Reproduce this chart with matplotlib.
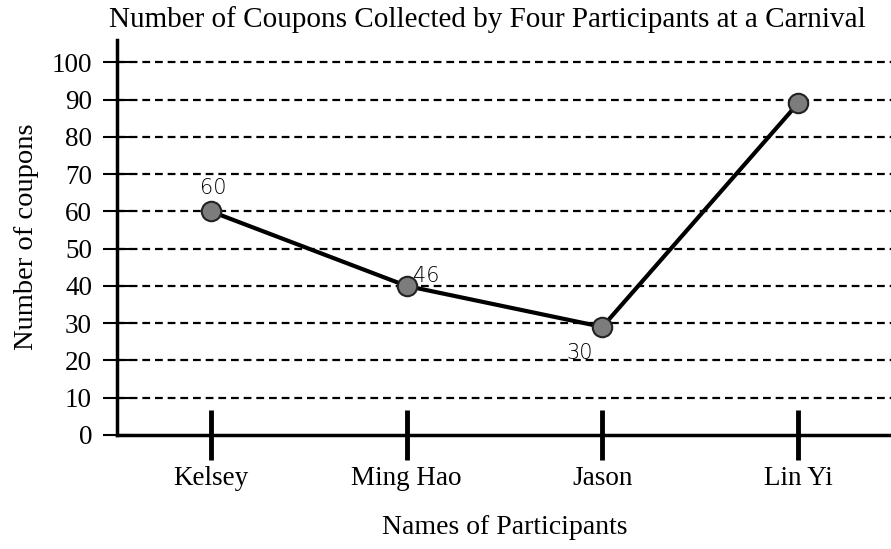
import matplotlib

matplotlib.use("Agg")
import matplotlib.pyplot as plt

participants = ["Kelsey", "Ming Hao", "Jason", "Lin Yi"]
coupons = [60, 40, 29, 89]
notes = ["60", "46", "30", ""]
y_ticks = [0, 10, 20, 30, 40, 50, 60, 70, 80, 90, 100]

plt.rcParams["font.family"] = ["Liberation Serif", "DejaVu Serif"]

W, H = 891, 549
fig = plt.figure(figsize=(W / 100, H / 100), dpi=100)
ax = fig.add_axes([117 / W, 114 / H, 1 - 117 / W, 395 / H])

x = list(range(len(participants)))
for v in y_ticks[1:]:
    ax.axhline(v, color="black", lw=1.6, ls=(0, (3.5, 2.2)), zorder=1)

ax.plot(x, coupons, color="black", lw=3, zorder=3,
        marker="o", markersize=14, markerfacecolor="#7c7c7c",
        markeredgecolor="#222222", markeredgewidth=1.5)

# handwritten labels next to points
offsets = [(2, 17), (14, 7), (-16, -19), (0, 0)]
for xi, yi, txt, off in zip(x, coupons, notes, offsets):
    if txt:
        ax.annotate(txt, (xi, yi), xytext=off, textcoords="offset points",
                    ha="center", va="center", fontsize=15, family="DejaVu Sans",
                    fontweight="light", zorder=4)

ax.set_xlim(-0.48, 3.475)
ax.set_ylim(0, 106)
ax.set_xticks(x)
ax.set_xticklabels(participants, fontsize=19.5)
ax.set_yticks(y_ticks)
ax.set_yticklabels([str(v) for v in y_ticks], fontsize=19.5)
ax.tick_params(axis="x", direction="inout", length=36, width=3.5, pad=4)
ax.tick_params(axis="y", direction="inout", length=20, width=1.5, pad=8)

for s in ("top", "right"):
    ax.spines[s].set_visible(False)
ax.spines["left"].set_linewidth(2.5)
ax.spines["bottom"].set_linewidth(2.5)

fig.text(27 / W, 1 - 237 / H, "Number of coupons", rotation=90,
         ha="center", va="center", fontsize=20.5)
fig.text(505 / W, 1 - 528 / H, "Names of Participants",
         ha="center", va="center", fontsize=20)
fig.text(487 / W, 1 - 20 / H, "Number of Coupons Collected by Four Participants at a Carnival",
         ha="center", va="center", fontsize=21)

fig.savefig("out.png", dpi=100)
